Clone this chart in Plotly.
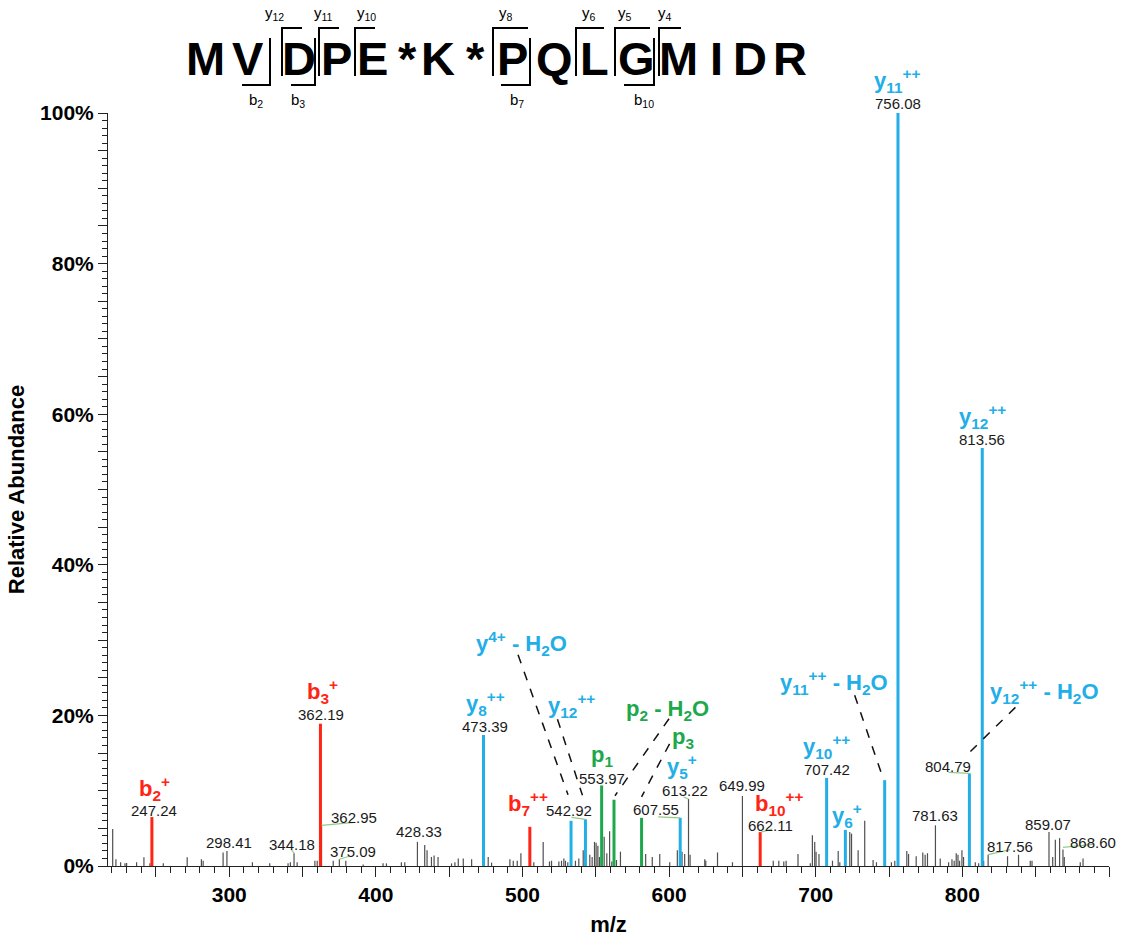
import plotly.graph_objects as go

# ---------------- data ----------------
noise_mz = [220.5, 222.7, 225.9, 228.9, 230.0, 236.8, 241.8, 245.9, 255.0, 271.3, 281.0, 282.2,
            295.8, 315.8, 327.6, 340.1, 341.7, 346.3, 358.4, 360.0, 370.9, 379.5, 391.3, 404.9,
            407.2, 417.4, 419.7, 433.3, 434.9, 437.9, 439.7, 442.4, 451.6, 453.9, 456.2, 459.6,
            465.3, 476.6, 478.9, 491.4, 493.7, 496.4, 498.9, 507.7, 514.1, 518.4, 519.8, 524.8,
            526.6, 528.2, 529.3, 530.9, 536.1, 538.4, 541.4, 545.9, 547.5, 549.1, 550.2, 551.4,
            552.5, 555.7, 557.5, 559.4, 560.9, 564.1, 566.8, 584.0, 588.5, 593.6, 600.4, 605.6,
            608.8, 610.6, 614.3, 624.3, 625.0, 633.0, 643.2, 671.0, 674.8, 678.2, 679.8, 687.9,
            696.3, 697.7, 699.3, 700.2, 702.2, 711.4, 715.3, 716.4, 723.2, 724.4, 728.9, 733.4,
            739.1, 741.4, 751.6, 753.9, 762.1, 763.3, 768.5, 773.0, 774.6, 776.2, 784.9, 790.6,
            792.9, 794.4, 795.8, 797.0, 798.1, 799.7, 800.8, 808.8, 811.1, 814.5, 830.8, 838.3,
            846.3, 847.5, 861.6, 863.4, 866.3, 869.5, 880.4, 882.3]
noise_int = [4.9, 0.9, 0.5, 0.35, 0.4, 0.5, 1.15, 0.35, 0.35, 1.15, 0.9, 0.7,
             1.8, 0.5, 0.35, 0.35, 0.5, 0.5, 0.7, 0.7, 0.7, 0.7, 0.2, 0.35,
             0.35, 0.5, 0.5, 2.8, 2.1, 1.2, 1.4, 1.2, 0.35, 0.5, 1.0, 1.0,
             0.9, 1.2, 0.45, 0.9, 0.7, 0.7, 1.7, 0.5, 3.2, 0.6, 0.7, 0.6,
             0.7, 1.0, 0.7, 0.5, 0.7, 1.0, 2.1, 1.5, 1.2, 3.2, 3.1, 2.7,
             1.2, 3.9, 1.7, 4.6, 0.6, 0.8, 1.9, 1.6, 1.2, 1.6, 0.5, 2.1,
             1.9, 1.6, 1.5, 0.9, 0.7, 1.8, 0.5, 0.7, 0.7, 0.6, 0.7, 1.6,
             0.35, 4.1, 3.2, 1.9, 1.6, 0.7, 2.0, 0.5, 4.5, 4.3, 2.1, 6.0,
             0.8, 0.5, 0.5, 0.7, 2.0, 1.6, 1.3, 1.8, 1.5, 1.7, 1.0, 0.5,
             0.9, 0.7, 1.7, 1.5, 0.7, 2.1, 1.2, 0.5, 0.35, 0.7, 1.3, 1.5,
             0.7, 0.7, 1.2, 3.5, 3.7, 1.2, 0.5, 1.0]

gray_lab_mz = [298.41, 344.18, 362.95, 375.09, 428.33, 613.22, 649.99, 781.63, 817.56, 859.07, 868.60]
gray_lab_int = [2.0, 1.7, 5.4, 0.9, 3.2, 8.9, 9.3, 5.4, 1.5, 4.5, 2.2]

b_mz = [247.24, 362.19, 505.0, 662.11]
b_int = [6.5, 18.9, 5.2, 4.5]

y_mz = [473.39, 533.1, 542.92, 607.55, 707.42, 720.2, 747.0, 756.08, 804.79, 813.56]
y_int = [17.4, 6.0, 6.2, 6.4, 11.7, 4.8, 11.4, 100.0, 12.3, 55.5]

p_mz = [553.97, 562.4, 581.2]
p_int = [10.7, 8.8, 6.4]

residues = ['M', 'V', 'D', 'P', 'E', '*', 'K', '*', 'P', 'Q', 'L', 'G', 'M', 'I', 'D', 'R']
y_frag_names = ['y<sub>12</sub>', 'y<sub>11</sub>', 'y<sub>10</sub>', 'y<sub>8</sub>',
                'y<sub>6</sub>', 'y<sub>5</sub>', 'y<sub>4</sub>']
b_frag_names = ['b<sub>2</sub>', 'b<sub>3</sub>', 'b<sub>7</sub>', 'b<sub>10</sub>']

x_tick_vals = list(range(250, 901, 50))
x_tick_text = [str(v) if (v % 100 == 0 and v < 900) else '' for v in x_tick_vals]
y_tick_vals = list(range(0, 101, 5))
y_tick_text = [f'{v}%' if v % 20 == 0 else '' for v in y_tick_vals]

# ---------------- layout constants ----------------
W, H = 1124, 941
ML, MR, MT, MB = 108, 15, 113, 75
PW = W - ML - MR
PH = H - MT - MB


def fx(px):
    return (px - ML) / PW


def fy(py):
    return (H - MB - py) / PH


BLUE = '#22AEE6'
RED = '#FF2414'
GREEN = '#1EA84C'
GRAY = '#4f4f4f'
LEAD = '#93CB86'
FONT = 'Liberation Sans, Arial, sans-serif'

peak_h = {}
for mzs, ints in [(noise_mz, noise_int), (gray_lab_mz, gray_lab_int), (b_mz, b_int),
                  (y_mz, y_int), (p_mz, p_int)]:
    for m, v in zip(mzs, ints):
        peak_h[m] = v


def sticks(mzs, ints):
    xs, ys = [], []
    for m, v in zip(mzs, ints):
        xs += [m, m, None]
        ys += [0, v, None]
    return xs, ys


fig = go.Figure()
for mzs, ints, col, w in [(noise_mz, noise_int, GRAY, 1.2),
                          (gray_lab_mz, gray_lab_int, GRAY, 1.2),
                          (b_mz, b_int, RED, 3),
                          (y_mz, y_int, BLUE, 3),
                          (p_mz, p_int, GREEN, 3)]:
    xs, ys = sticks(mzs, ints)
    fig.add_trace(go.Scatter(x=xs, y=ys, mode='lines', line=dict(color=col, width=w),
                             hoverinfo='skip', showlegend=False, cliponaxis=False))

annotations = []
shapes = []

# numeric peak labels: (mz, dx, dy)
num_labels = [(247.24, 2, 7), (362.19, 1, 9), (473.39, 2, 8), (553.97, 0, 7),
              (756.08, 0, 10), (813.56, 0, 9), (707.42, 0, 8), (662.11, 10, 7),
              (542.92, -16, 9), (607.55, -24, 8), (804.79, -21, 7),
              (298.41, 2, 8), (344.18, -2, 9), (362.95, 32, 8), (375.09, 14, 8),
              (428.33, 2, 10), (613.22, -4, 8), (649.99, 0, 10), (781.63, 0, 10),
              (817.56, 22, 8), (859.07, -1, 8), (868.60, 30, 7)]
for m, dx, dy in num_labels:
    annotations.append(dict(x=m, y=peak_h[m], xref='x', yref='y', text=f'{m:.2f}',
                            showarrow=False, xshift=dx, yshift=dy, xanchor='center',
                            yanchor='middle', font=dict(family=FONT, size=15, color='#1a1a1a')))

# ion labels: (text, mz, color, dx, dy)
ion_labels = [
    ('b<sub>2</sub><sup>+</sup>', 247.24, RED, 3, 29),
    ('b<sub>3</sub><sup>+</sup>', 362.19, RED, 2, 32),
    ('y<sub>8</sub><sup>++</sup>', 473.39, BLUE, 2, 31),
    ('y<sub>11</sub><sup>++</sup>', 756.08, BLUE, 0, 33),
    ('y<sub>12</sub><sup>++</sup>', 813.56, BLUE, 0, 32),
    ('y<sub>10</sub><sup>++</sup>', 707.42, BLUE, 0, 31),
    ('b<sub>10</sub><sup>++</sup>', 662.11, RED, 19, 29),
    ('b<sub>7</sub><sup>++</sup>', 505.0, RED, -2, 23),
    ('y<sub>6</sub><sup>+</sup>', 720.2, BLUE, 2, 14),
    ('y<sub>5</sub><sup>+</sup>', 607.55, BLUE, 2, 51),
    ('p<sub>1</sub>', 553.97, GREEN, 0, 29),
    ('y<sup>4+</sup> - H<sub>2</sub>O', 533.1, BLUE, -50, 177),
    ('y<sub>12</sub><sup>++</sup>', 542.92, BLUE, -14, 114),
    ('p<sub>2</sub> - H<sub>2</sub>O', 562.4, GREEN, 53, 90),
    ('p<sub>3</sub>', 581.2, GREEN, 41, 80),
    ('y<sub>11</sub><sup>++</sup> - H<sub>2</sub>O', 747.0, BLUE, -51, 98),
    ('y<sub>12</sub><sup>++</sup> - H<sub>2</sub>O', 804.79, BLUE, 75, 82),
]
for txt, m, col, dx, dy in ion_labels:
    annotations.append(dict(x=m, y=peak_h[m], xref='x', yref='y', text='<b>' + txt + '</b>',
                            showarrow=False, xshift=dx, yshift=dy, xanchor='center',
                            yanchor='middle', font=dict(family=FONT, size=22, color=col)))


def rel_line(m, x0, y0, x1, y1, color, width, dash):
    return dict(type='line', xref='x', yref='y', xsizemode='pixel', ysizemode='pixel',
                xanchor=m, yanchor=peak_h[m], x0=x0, x1=x1, y0=y0, y1=y1,
                line=dict(color=color, width=width, dash=dash), layer='above')


dashed = [(533.1, -53, 166, -3, 26), (542.92, -28, 100, -3, 24), (562.4, 55, 81, 1, 4),
          (581.2, 28, 74, 0, 21), (747.0, -30, 85, -2, 3), (804.79, 46, 66, -4, 17)]
for m, x0, y0, x1, y1 in dashed:
    shapes.append(rel_line(m, x0, y0, x1, y1, '#111111', 1.5, 'dash'))

leaders = [(662.11, 1, 0, 12, 3), (542.92, 0, 0, -14, 2), (607.55, 0, 0, -22, 1),
           (613.22, 0, 0, -5, 2), (804.79, 0, 0, -21, 1), (344.18, 0, 0, -3, 4),
           (375.09, 0, 0, 10, 3), (362.95, 0, 0, 33, 3), (817.56, 0, 0, 22, 5),
           (868.60, 0, 2, 30, 5)]
for m, x0, y0, x1, y1 in leaders:
    shapes.append(rel_line(m, x0, y0, x1, y1, LEAD, 1.2, 'solid'))

# ---------------- peptide sequence header ----------------
seq_x = [205, 248, 299, 336, 372, 407, 438, 475, 512, 554, 594, 636, 678, 716, 750, 790]
for ch, px in zip(residues, seq_x):
    annotations.append(dict(x=fx(px), y=fy(58), xref='paper', yref='paper', text='<b>' + ch + '</b>',
                            showarrow=False, xanchor='center', yanchor='middle',
                            font=dict(family=FONT, size=47, color='black')))

y_br_x = [282, 319, 355, 493, 576, 615, 659]
y_br_len = [20, 20, 20, 35, 28, 35, 22]
y_lab_x = [274, 323, 366, 506, 589, 625, 665]
for name, vx, ln, lx in zip(y_frag_names, y_br_x, y_br_len, y_lab_x):
    shapes.append(dict(type='path', xref='paper', yref='paper',
                       path=f'M {fx(vx)} {fy(76)} L {fx(vx)} {fy(28)} L {fx(vx + ln)} {fy(28)}',
                       line=dict(color='black', width=2)))
    annotations.append(dict(x=fx(lx), y=fy(14), xref='paper', yref='paper', text=name,
                            showarrow=False, xanchor='center', yanchor='middle',
                            font=dict(family=FONT, size=15, color='black')))

b_br_x = [270, 315, 530, 654]
b_br_len = [28, 24, 29, 30]
b_lab_x = [256, 298, 517, 644]
for name, vx, ln, lx in zip(b_frag_names, b_br_x, b_br_len, b_lab_x):
    shapes.append(dict(type='path', xref='paper', yref='paper',
                       path=f'M {fx(vx)} {fy(38)} L {fx(vx)} {fy(85)} L {fx(vx - ln)} {fy(85)}',
                       line=dict(color='black', width=2)))
    annotations.append(dict(x=fx(lx), y=fy(100), xref='paper', yref='paper', text=name,
                            showarrow=False, xanchor='center', yanchor='middle',
                            font=dict(family=FONT, size=15, color='black')))

fig.update_layout(
    width=W, height=H,
    margin=dict(l=ML, r=MR, t=MT, b=MB, pad=0),
    plot_bgcolor='white', paper_bgcolor='white',
    font=dict(family=FONT, color='black'),
    annotations=annotations,
    shapes=shapes,
    showlegend=False,
    xaxis=dict(range=[217.3, 900], showgrid=False, zeroline=False, showline=True,
               linecolor='#222', linewidth=1, ticks='outside', ticklen=10, tickwidth=1,
               tickcolor='#222', tickmode='array', tickvals=x_tick_vals, ticktext=x_tick_text,
               tickfont=dict(family=FONT, size=21, color='black', weight='bold'),
               minor=dict(tickmode='linear', tick0=0, dtick=10, ticks='outside', ticklen=6,
                          tickwidth=1, tickcolor='#222', showgrid=False),
               title=dict(text='<b>m/z</b>', font=dict(family=FONT, size=22, color='black'),
                          standoff=11),
               automargin=False),
    yaxis=dict(range=[0, 100], showgrid=False, zeroline=False, showline=True,
               linecolor='#222', linewidth=1, ticks='outside', ticklen=9, tickwidth=1,
               tickcolor='#222', tickmode='array', tickvals=y_tick_vals, ticktext=y_tick_text,
               tickfont=dict(family=FONT, size=21, color='black', weight='bold'),
               minor=dict(tickmode='linear', tick0=0, dtick=1, ticks='outside', ticklen=5,
                          tickwidth=1, tickcolor='#222', showgrid=False),
               title=dict(text='<b>Relative Abundance</b>',
                          font=dict(family=FONT, size=22, color='black'), standoff=9),
               automargin=False),
)

fig.write_html('out.html')
